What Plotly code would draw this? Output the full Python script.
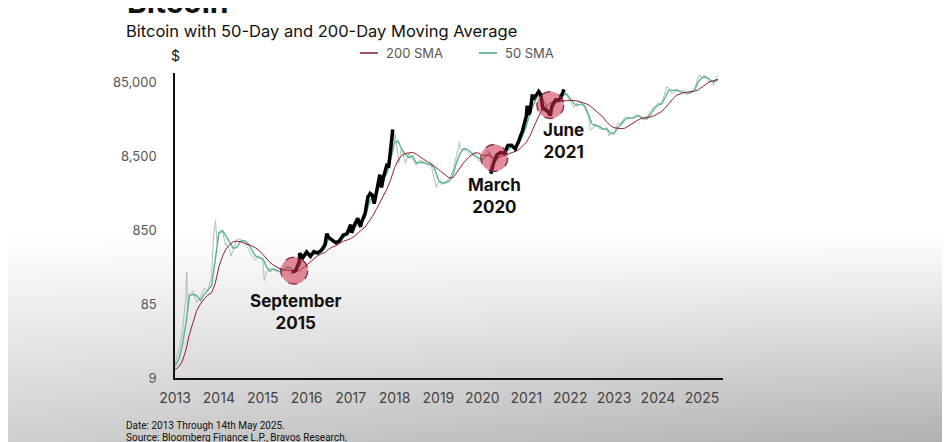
"""
Bitcoin with 50-Day and 200-Day Moving Average (log scale), 2013 - May 2025.
"""

import base64
import math
import struct
import zlib

import pandas as pd
import plotly.graph_objects as go

# ── Data ─────────────────────────────────────────────────────────────────────
price_dates = [
    "2013-01-01", "2013-02-01", "2013-03-01", "2013-04-01", "2013-04-09", "2013-04-16",
    "2013-05-01", "2013-06-01", "2013-07-01", "2013-08-01", "2013-09-01", "2013-10-01",
    "2013-11-01", "2013-11-18", "2013-12-04", "2013-12-18",
    "2014-01-01", "2014-02-01", "2014-02-25", "2014-03-01", "2014-04-01", "2014-04-11",
    "2014-05-01", "2014-06-01", "2014-07-01", "2014-08-01", "2014-09-01", "2014-10-01",
    "2014-11-01", "2014-12-01",
    "2015-01-01", "2015-01-14", "2015-02-01", "2015-03-01", "2015-04-01", "2015-05-01",
    "2015-06-01", "2015-07-01", "2015-08-01", "2015-08-24", "2015-09-01", "2015-10-01",
    "2015-11-01", "2015-11-04", "2015-12-01",
    "2016-01-01", "2016-02-01", "2016-03-01", "2016-04-01", "2016-05-01", "2016-06-01",
    "2016-06-17", "2016-07-01", "2016-08-01", "2016-09-01", "2016-10-01", "2016-11-01",
    "2016-12-01",
    "2017-01-01", "2017-01-11", "2017-02-01", "2017-03-01", "2017-03-24", "2017-04-01",
    "2017-05-01", "2017-05-25", "2017-06-01", "2017-06-12", "2017-07-01", "2017-07-16",
    "2017-08-01", "2017-09-01", "2017-09-15", "2017-10-01", "2017-11-01", "2017-11-12",
    "2017-12-01", "2017-12-17", "2017-12-22",
    "2018-01-01", "2018-01-06", "2018-02-01", "2018-02-06", "2018-03-01", "2018-04-01",
    "2018-05-01", "2018-06-01", "2018-07-01", "2018-08-01", "2018-09-01", "2018-10-01",
    "2018-11-01", "2018-12-01", "2018-12-15",
    "2019-01-01", "2019-02-01", "2019-03-01", "2019-04-01", "2019-05-01", "2019-06-01",
    "2019-06-26", "2019-07-01", "2019-08-01", "2019-09-01", "2019-10-01", "2019-11-01",
    "2019-12-01",
    "2020-01-01", "2020-02-01", "2020-02-13", "2020-03-01", "2020-03-12", "2020-04-01",
    "2020-05-01", "2020-06-01", "2020-07-01", "2020-08-01", "2020-09-01", "2020-10-01",
    "2020-11-01", "2020-12-01",
    "2021-01-01", "2021-01-08", "2021-01-22", "2021-02-01", "2021-02-21", "2021-03-01",
    "2021-04-01", "2021-04-14", "2021-05-01", "2021-05-19", "2021-06-01", "2021-07-01",
    "2021-07-20", "2021-08-01", "2021-09-01", "2021-10-01", "2021-11-01", "2021-11-10",
    "2021-12-01",
    "2022-01-01", "2022-02-01", "2022-03-01", "2022-04-01", "2022-05-01", "2022-06-01",
    "2022-06-18", "2022-07-01", "2022-08-01", "2022-09-01", "2022-10-01", "2022-11-01",
    "2022-11-21", "2022-12-01",
    "2023-01-01", "2023-02-01", "2023-03-01", "2023-04-01", "2023-05-01", "2023-06-01",
    "2023-07-01", "2023-08-01", "2023-09-01", "2023-10-01", "2023-11-01", "2023-12-01",
    "2024-01-01", "2024-02-01", "2024-03-01", "2024-03-14", "2024-04-01", "2024-05-01",
    "2024-06-01", "2024-07-01", "2024-08-01", "2024-09-01", "2024-10-01", "2024-11-01",
    "2024-12-01", "2024-12-17",
    "2025-01-01", "2025-01-21", "2025-02-01", "2025-03-01", "2025-04-01", "2025-04-08",
    "2025-05-01", "2025-05-14",
]
price_usd = [
    13.3, 20.4, 34, 104, 230, 68,
    116, 128, 88, 105, 140, 125,
    205, 700, 1150, 540,
    770, 800, 530, 560, 460, 380,
    450, 640, 635, 590, 480, 385,
    330, 380,
    315, 175, 230, 260, 245, 235,
    225, 260, 280, 210, 230, 238,
    320, 410, 360,
    430, 375, 435, 415, 450, 535,
    760, 675, 610, 570, 610, 730,
    755,
    1000, 780, 985, 1220, 935, 1080,
    1420, 2400, 2450, 2650, 2500, 1930,
    2750, 4750, 3200, 4400, 6700, 5900,
    10900, 19400, 13800,
    13500, 17200, 9100, 6900, 11000, 6800,
    9200, 7500, 6400, 7600, 7100, 6600,
    6400, 4000, 3200,
    3800, 3500, 3800, 4100, 5300, 8600,
    13000, 10600, 10400, 9600, 8300, 9200,
    7400,
    7200, 9400, 10300, 8600, 4900, 6600,
    8800, 9500, 9200, 11800, 11900, 10600,
    13800, 18800,
    29400, 40500, 30800, 33500, 57500, 49600,
    58700, 63500, 57800, 37000, 36700, 33500,
    29800, 39900, 48800, 48200, 61000, 67500,
    57000,
    47000, 38500, 44400, 46300, 38500, 29800,
    19000, 19300, 23300, 20000, 19300, 20500,
    15800, 17100,
    16600, 23700, 23600, 28500, 28000, 27000,
    30600, 29700, 25900, 27900, 35400, 38700,
    44200, 43100, 62400, 73100, 69700, 58300,
    67800, 62700, 65400, 57300, 61300, 69500,
    97200, 106100,
    94400, 106100, 100600, 86000, 85200, 76300,
    96500, 103700,
]

# periods where the price line is drawn bold black
highlight_start = ["2015-09-01", "2020-03-12"]
highlight_end = ["2017-12-17", "2021-11-10"]

sma_dates = (
    [f"{y}-{m:02d}-01" for y in range(2013, 2025) for m in range(1, 13)]
    + ["2025-01-01", "2025-02-01", "2025-03-01", "2025-04-01", "2025-05-01", "2025-05-14"]
)
sma50 = [
    # 2013
    12.5, 15, 23, 45, 110, 115, 110, 95, 115, 130, 150, 330,
    # 2014
    780, 840, 700, 570, 480, 500, 600, 610, 560, 460, 380, 360,
    # 2015
    350, 270, 235, 255, 240, 235, 245, 270, 255, 236, 270, 360,
    # 2016
    390, 410, 400, 415, 435, 480, 640, 640, 590, 600, 660, 730,
    # 2017
    800, 900, 1050, 1110, 1250, 1900, 2450, 2500, 3500, 4100, 5100, 7600,
    # 2018
    13000, 13500, 10500, 9000, 8100, 8500, 6800, 7000, 6900, 6600, 6500, 5700,
    # 2019
    4000, 3700, 3700, 3900, 4700, 7000, 9300, 10700, 10400, 9500, 8500, 8000,
    # 2020
    7500, 8400, 9500, 7300, 7500, 9000, 9400, 10200, 11500, 11000, 12500, 16000,
    # 2021
    21500, 33000, 42000, 54000, 57000, 45000, 35500, 36000, 44500, 46000, 55000, 59000,
    # 2022
    51000, 43500, 41000, 43000, 40500, 31500, 23000, 21800, 21400, 19600, 19700, 17500,
    # 2023
    17200, 20400, 22800, 26300, 28000, 27400, 29000, 29600, 27200, 26900, 31200, 37000,
    # 2024
    41500, 43000, 52500, 66500, 65500, 66000, 63500, 61000, 60500, 61000, 66000, 85000,
    # 2025
    97500, 99500, 93500, 85000, 88000, 92000,
]
sma200 = [
    # 2013
    11, 12, 14, 20, 33, 50, 70, 85, 100, 112, 120, 160,
    # 2014
    270, 380, 470, 540, 590, 600, 590, 560, 540, 520, 490, 450,
    # 2015
    400, 350, 310, 285, 265, 250, 245, 240, 238, 236, 240, 260,
    # 2016
    285, 320, 350, 380, 405, 420, 465, 500, 520, 560, 600, 620,
    # 2017
    650, 700, 780, 850, 930, 1100, 1300, 1600, 2000, 2500, 3100, 4100,
    # 2018
    5900, 7500, 8600, 9200, 9300, 9500, 9000, 8300, 7600, 7100, 6700, 6200,
    # 2019
    5600, 5100, 4700, 4300, 4300, 5000, 5900, 7000, 8000, 8800, 9400, 9300,
    # 2020
    8700, 8600, 8600, 8100, 7900, 8300, 8600, 8900, 9300, 9800, 10400, 11500,
    # 2021
    13000, 16000, 20500, 26500, 33000, 38500, 42000, 45000, 46500, 46500, 46800, 47500,
    # 2022
    48000, 48000, 47200, 45500, 44000, 42000, 38500, 35000, 32000, 28500, 24500, 22000,
    # 2023
    20500, 20300, 19900, 20200, 21800, 23500, 25200, 26800, 27900, 28100, 28700, 29800,
    # 2024
    31500, 34000, 38000, 44000, 49500, 56000, 58800, 61200, 62000, 63100, 63800, 66500,
    # 2025
    72000, 78500, 85000, 88000, 91000, 92500,
]

year_ticks = list(range(2013, 2026))
y_tickvals = [8.5, 85, 850, 8500, 85000]
y_ticktext = ["9", "85", "850", "8,500", "85,000"]

# ── Layout geometry (pixels, page coords; the figure sits 8px in from the page corner) ──
OFF = 8
W, H = 950, 442
L, R, T, B = 175 - OFF, 950 - 723 + OFF, 73 - OFF, 442 - 378 + OFF
PW, PH = W - L - R, H - T - B


def px(x):
    """page pixel x -> paper coordinate"""
    return (x - OFF - L) / PW


def py(y):
    """page pixel y -> paper coordinate"""
    return (H - B - (y - OFF)) / PH


def gradient_png(w, h):
    """Small grey gradient png (white top, darker bottom-right) as data URI."""
    rows = bytearray()
    for j in range(h):
        rows.append(0)
        y = j / (h - 1) * H + OFF
        for i in range(w):
            x = i / (w - 1) * W + OFF
            t = max(0.0, (y - 235) / 207)
            g = int(round(255 - (48 + 30 * x / 950) * t))
            rows += bytes((g, g, g))

    def chunk(tag, data):
        c = struct.pack(">I", len(data)) + tag + data
        return c + struct.pack(">I", zlib.crc32(tag + data) & 0xFFFFFFFF)

    png = (b"\x89PNG\r\n\x1a\n"
           + chunk(b"IHDR", struct.pack(">IIBBBBB", w, h, 8, 2, 0, 0, 0))
           + chunk(b"IDAT", zlib.compress(bytes(rows), 9))
           + chunk(b"IEND", b""))
    return "data:image/png;base64," + base64.b64encode(png).decode()


price = pd.DataFrame({"date": pd.to_datetime(price_dates), "usd": price_usd})
sma = pd.DataFrame({"date": pd.to_datetime(sma_dates), "s50": sma50, "s200": sma200})

fig = go.Figure()

fig.add_trace(go.Scatter(x=price["date"], y=price["usd"], mode="lines",
                         line=dict(color="#aebfb5", width=1), showlegend=False))
fig.add_trace(go.Scatter(x=sma["date"], y=sma["s50"], mode="lines",
                         line=dict(color="#58b48f", width=1.4), showlegend=False))
fig.add_trace(go.Scatter(x=sma["date"], y=sma["s200"], mode="lines",
                         line=dict(color="#8e1f2f", width=1), showlegend=False))

for start, end in zip(highlight_start, highlight_end):
    seg = price[(price["date"] >= start) & (price["date"] <= end)]
    fig.add_trace(go.Scatter(x=seg["date"], y=seg["usd"], mode="lines",
                             line=dict(color="#000000", width=3.5), showlegend=False))

# ── Highlight circles + labels ───────────────────────────────────────────────
# radius ~13.5px: ~112 days across, x1.52 up/down on the log axis
circles = [("2015-09-20", 240), ("2020-04-10", 8000), ("2021-07-20", 41500)]
for cx, cy in circles:
    c = pd.Timestamp(cx)
    fig.add_shape(type="circle", xref="x", yref="y",
                  x0=c - pd.Timedelta(days=112), x1=c + pd.Timedelta(days=112),
                  y0=cy / 1.52, y1=cy * 1.52,
                  fillcolor="rgba(205,45,75,0.55)",
                  line=dict(color="rgba(110,30,45,0.9)", width=1.3, dash="dash"))

labels = [("2015-10-05", 66, "September<br>2015"),
          ("2020-04-15", 2450, "March<br>2020"),
          ("2021-11-10", 13500, "June<br>2021")]
for lx, ly, txt in labels:
    fig.add_annotation(x=lx, y=math.log10(ly), xref="x", yref="y", text=f"<b>{txt}</b>",
                       showarrow=False, font=dict(family="Inter", size=17, color="#111111"),
                       align="center")

# ── Titles, legend, notes ────────────────────────────────────────────────────
# big heading sits mostly above the frame, only its lower edge shows
fig.add_annotation(x=px(125), y=py(22), xref="paper", yref="paper", text="<b>Bitcoin</b>",
                   showarrow=False, xanchor="left", yanchor="bottom",
                   font=dict(family="Inter", size=30, color="#111111"))
fig.add_annotation(x=px(124), y=py(31), xref="paper", yref="paper",
                   text="Bitcoin with 50-Day and 200-Day Moving Average",
                   showarrow=False, xanchor="left", yanchor="middle",
                   font=dict(family="Inter", size=16.5, color="#111111"))
fig.add_annotation(x=px(175), y=py(55), xref="paper", yref="paper", text="$",
                   showarrow=False, xanchor="center", yanchor="middle",
                   font=dict(family="Inter", size=14, color="#111111"))

for x0, x1, color, name in [(360, 378, "#8e1f2f", "200 SMA"), (479, 497, "#3fa47c", "50 SMA")]:
    fig.add_shape(type="line", xref="paper", yref="paper", x0=px(x0), x1=px(x1),
                  y0=py(53), y1=py(53), line=dict(color=color, width=1.5))
    fig.add_annotation(x=px(x1 + 6), y=py(53), xref="paper", yref="paper", text=name,
                       showarrow=False, xanchor="left", yanchor="middle",
                       font=dict(family="Inter", size=13, color="#555555"))

for y_px, note in [(425, "Date: 2013 Through 14th May 2025."),
                   (437, "Source: Bloomberg Finance L.P., Bravos Research.")]:
    fig.add_annotation(x=px(124), y=py(y_px), xref="paper", yref="paper", text=note,
                       showarrow=False, xanchor="left", yanchor="middle",
                       font=dict(family="Liberation Sans Narrow, Roboto", size=10, color="#111111"))

fig.add_layout_image(source=gradient_png(95, 221), xref="paper", yref="paper",
                     x=px(OFF), y=py(OFF), sizex=W / PW, sizey=H / PH,
                     xanchor="left", yanchor="top", sizing="stretch", layer="below")

fig.update_layout(
    width=W, height=H,
    margin=dict(l=L, r=R, t=T, b=B, pad=0),
    paper_bgcolor="#ffffff", plot_bgcolor="rgba(0,0,0,0)",
    showlegend=False,
    font=dict(family="Inter", color="#555555"),
    xaxis=dict(type="date", range=["2013-01-01", "2025-06-25"],
               tickvals=[f"{y}-01-01" for y in year_ticks],
               ticktext=[str(y) for y in year_ticks],
               tickfont=dict(size=14, color="#444444"), ticks="", ticklabelstandoff=6,
               showgrid=False, zeroline=False, showline=True, linecolor="#111111", linewidth=1.5),
    yaxis=dict(type="log", range=[math.log10(8.5), math.log10(112500)],
               tickvals=y_tickvals, ticktext=y_ticktext,
               tickfont=dict(size=13, color="#555555"), ticks="", ticklabelstandoff=14,
               showgrid=False, zeroline=False, showline=True, linecolor="#111111", linewidth=1.5),
)

fig.write_html("out.html")
